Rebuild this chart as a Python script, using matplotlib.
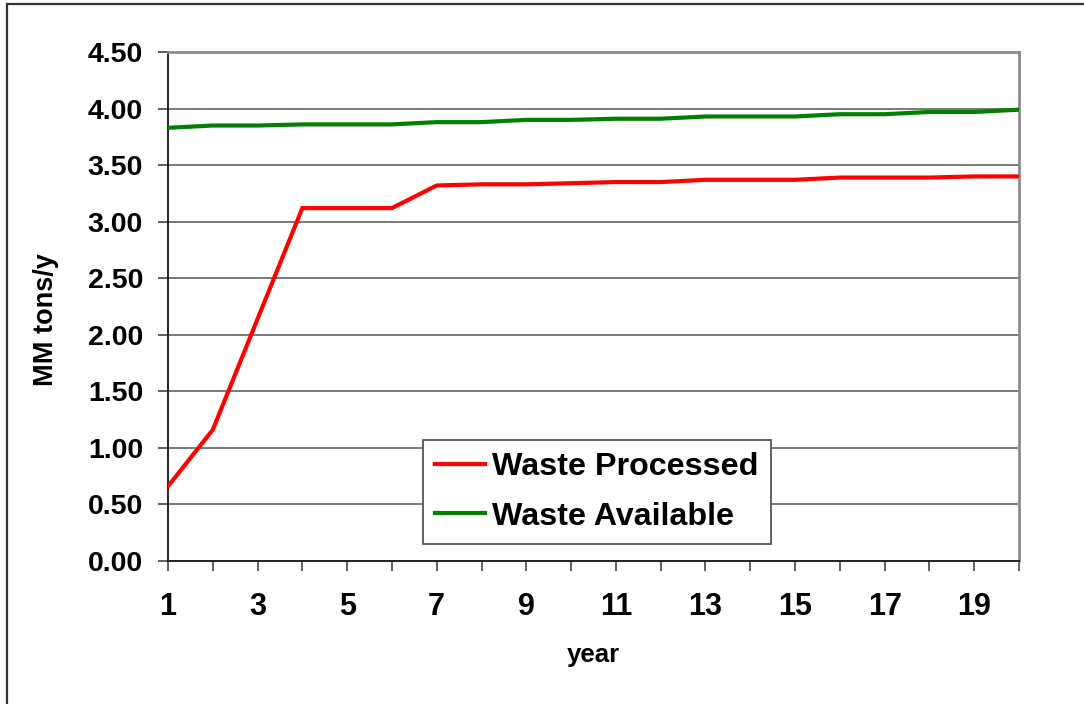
import matplotlib
matplotlib.use("Agg")
import matplotlib.pyplot as plt
from matplotlib.patches import Rectangle
from matplotlib.ticker import MultipleLocator, FixedLocator

plt.rcParams["font.family"] = ["Liberation Sans", "DejaVu Sans"]
plt.rcParams["font.weight"] = "bold"

# Annual throughput, million tons per year
years = list(range(1, 21))
waste_processed = [0.66, 1.16, 2.14, 3.12, 3.12, 3.12, 3.32, 3.33, 3.33, 3.34,
                   3.35, 3.35, 3.37, 3.37, 3.37, 3.39, 3.39, 3.39, 3.40, 3.40]
waste_available = [3.83, 3.85, 3.85, 3.86, 3.86, 3.86, 3.88, 3.88, 3.90, 3.90,
                   3.91, 3.91, 3.93, 3.93, 3.93, 3.95, 3.95, 3.97, 3.97, 3.99]
series_labels = ["Waste Processed", "Waste Available"]
x_tick_labels = [1, 3, 5, 7, 9, 11, 13, 15, 17, 19]
y_ticks = [0.0, 0.5, 1.0, 1.5, 2.0, 2.5, 3.0, 3.5, 4.0, 4.5]

W, H = 1084, 704
fig = plt.figure(figsize=(W / 100, H / 100), dpi=100)
fig.patch.set_facecolor("white")

# outer chart border
fig.patches.append(Rectangle((7 / W, -0.02), 1.05, 1 - 4 / H + 0.02,
                             transform=fig.transFigure, fill=False,
                             edgecolor="#333333", linewidth=1.6, zorder=0))

ax = fig.add_axes([168 / W, 1 - 561 / H, (1019 - 168) / W, (561 - 52) / H])

ax.plot(years, waste_processed, color="#ff0000", linewidth=3,
        label=series_labels[0], solid_joinstyle="miter", zorder=3)
ax.plot(years, waste_available, color="#008000", linewidth=3,
        label=series_labels[1], solid_joinstyle="miter", zorder=3)

ax.set_xlim(1, 20)
ax.set_ylim(0, 4.5)

ax.yaxis.set_major_locator(FixedLocator(y_ticks))
ax.set_yticklabels([f"{v:.2f}" for v in y_ticks], fontsize=20.5, fontweight="bold")
ax.xaxis.set_major_locator(FixedLocator(x_tick_labels))
ax.set_xticklabels([str(v) for v in x_tick_labels], fontsize=22, fontweight="bold")
ax.xaxis.set_minor_locator(MultipleLocator(1))

ax.tick_params(axis="y", direction="out", length=7, width=1.1, color="#333333", pad=11)
ax.tick_params(axis="x", which="both", direction="out", length=7, width=1.1,
               color="#333333", pad=15)

ax.grid(axis="y", color="#6e6e6e", linewidth=1.3, zorder=1)
ax.set_axisbelow(True)

for side in ("left", "bottom"):
    ax.spines[side].set_color("#222222")
    ax.spines[side].set_linewidth(1.4)
for side in ("top", "right"):
    ax.spines[side].set_color("#8c8c8c")
    ax.spines[side].set_linewidth(2)

ax.set_ylabel("MM tons/y", fontsize=19.5, fontweight="bold")
ax.yaxis.set_label_coords(-0.128, 0.4735)
ax.set_xlabel("year", fontsize=18.5, fontweight="bold")
ax.xaxis.set_label_coords(0.4994, -0.161)

leg = ax.legend(loc="upper left", bbox_to_anchor=(0.2993, 0.2377),
                bbox_transform=ax.transAxes, borderaxespad=0,
                prop={"size": 23.2, "weight": "bold"},
                frameon=True, fancybox=False, framealpha=1,
                edgecolor="#555555", handlelength=1.55, handletextpad=0.22,
                borderpad=0.38, labelspacing=0.6)
leg.get_frame().set_linewidth(1.3)

fig.savefig("out.png", dpi=100, facecolor="white")
